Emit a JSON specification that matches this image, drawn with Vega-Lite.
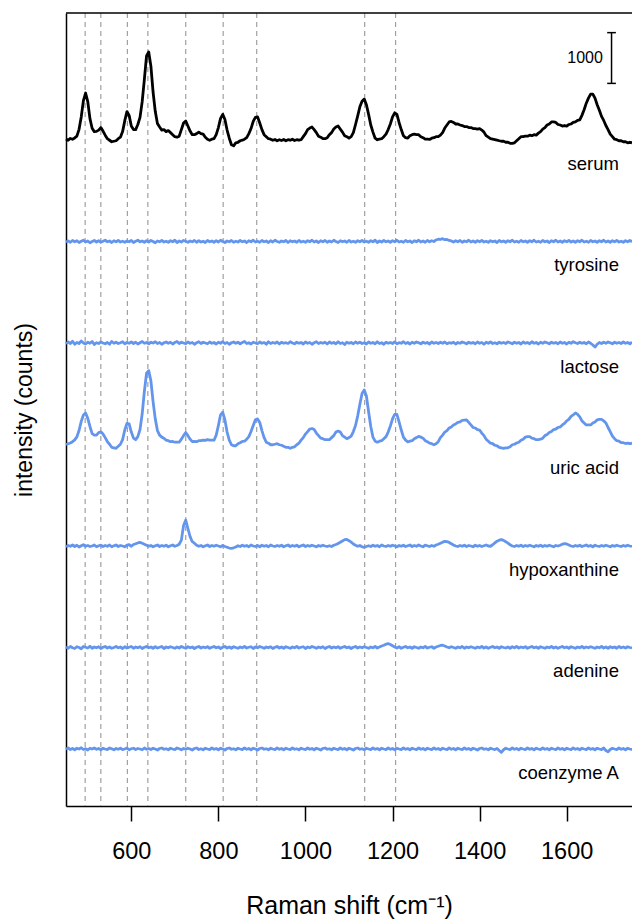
{
"$schema": "https://vega.github.io/schema/vega-lite/v6.json",
"width": 566,
"height": 793,
"autosize": {"type": "none"},
"padding": {"left": 66, "top": 13, "right": 0, "bottom": 113},
"background": "white",
"config": {"font": "Liberation Sans", "view": {"stroke": null}},
"datasets": {
"peaks": [{"p":494},{"p":530},{"p":591},{"p":638},{"p":725},{"p":811},{"p":888},{"p":1136},{"p":1207}],
"labels": [{"n":"serum","y":12530},{"n":"tyrosine","y":10530},{"n":"lactose","y":8530},{"n":"uric acid","y":6530},{"n":"hypoxanthine","y":4530},{"n":"adenine","y":2530},{"n":"coenzyme A","y":530}],
"scalebar": [{"x":1703,"lo":14115,"hi":15115,"c1":1693,"c2":1713,"tx":1683,"ty":14615,"lab":"1000"}],
"frame": [{"top":15502}],
"spectra": [
{"x":450,"s":13020,"t":10990,"l":8985,"u":7000,"h":4985,"a":3010,"c":995},
{"x":455,"s":12995,"t":11010,"l":9020,"u":7015,"h":5010,"a":2985,"c":1020},
{"x":460,"s":13030,"t":10985,"l":8990,"u":7030,"h":4995,"a":3020,"c":990},
{"x":465,"s":13015,"t":11020,"l":9035,"u":7055,"h":5020,"a":2995,"c":1010},
{"x":470,"s":13040,"t":10995,"l":8975,"u":7090,"h":4990,"a":2980,"c":985},
{"x":475,"s":13075,"t":11015,"l":9010,"u":7150,"h":5015,"a":3015,"c":1015},
{"x":480,"s":13210,"t":10980,"l":8990,"u":7275,"h":4980,"a":3000,"c":1000},
{"x":485,"s":13455,"t":11005,"l":9040,"u":7455,"h":5005,"a":2975,"c":1025},
{"x":490,"s":13775,"t":11025,"l":9000,"u":7580,"h":5025,"a":3020,"c":990},
{"x":495,"s":13925,"t":10990,"l":8980,"u":7620,"h":4995,"a":3005,"c":1005},
{"x":500,"s":13755,"t":11010,"l":9015,"u":7515,"h":5010,"a":2990,"c":980},
{"x":505,"s":13420,"t":10975,"l":8995,"u":7355,"h":4990,"a":3025,"c":1015},
{"x":510,"s":13230,"t":11000,"l":9030,"u":7215,"h":5000,"a":2985,"c":1000},
{"x":515,"s":13165,"t":11020,"l":8970,"u":7185,"h":5020,"a":3010,"c":1020},
{"x":520,"s":13170,"t":10990,"l":9005,"u":7185,"h":4985,"a":2995,"c":995},
{"x":525,"s":13195,"t":11015,"l":8990,"u":7235,"h":5005,"a":3015,"c":1010},
{"x":530,"s":13245,"t":10985,"l":9020,"u":7250,"h":5015,"a":2980,"c":985},
{"x":535,"s":13175,"t":11005,"l":9000,"u":7205,"h":4990,"a":3005,"c":1015},
{"x":540,"s":13095,"t":11025,"l":8985,"u":7135,"h":5010,"a":3020,"c":1000},
{"x":545,"s":13025,"t":10995,"l":9010,"u":7055,"h":4995,"a":2990,"c":990},
{"x":550,"s":12995,"t":11010,"l":8975,"u":7005,"h":5020,"a":3010,"c":1020},
{"x":555,"s":12965,"t":10980,"l":9030,"u":6945,"h":4985,"a":2985,"c":1005},
{"x":560,"s":12975,"t":11015,"l":8995,"u":6935,"h":5005,"a":3000,"c":985},
{"x":565,"s":12985,"t":10995,"l":9015,"u":6925,"h":5020,"a":3020,"c":1010},
{"x":570,"s":13025,"t":11020,"l":8990,"u":6965,"h":4990,"a":2995,"c":995},
{"x":575,"s":13055,"t":10990,"l":9005,"u":7005,"h":5010,"a":3010,"c":1015},
{"x":580,"s":13165,"t":11005,"l":9025,"u":7095,"h":5000,"a":2980,"c":990},
{"x":585,"s":13380,"t":10985,"l":8985,"u":7285,"h":4985,"a":3015,"c":1000},
{"x":590,"s":13560,"t":11010,"l":9010,"u":7415,"h":5015,"a":2990,"c":1020},
{"x":595,"s":13485,"t":10995,"l":8995,"u":7405,"h":5025,"a":3005,"c":985},
{"x":600,"s":13275,"t":11020,"l":9020,"u":7245,"h":4995,"a":3020,"c":1005},
{"x":605,"s":13205,"t":10980,"l":8990,"u":7125,"h":5030,"a":2985,"c":1015},
{"x":610,"s":13205,"t":11005,"l":9015,"u":7095,"h":5045,"a":3010,"c":990},
{"x":615,"s":13305,"t":11025,"l":8980,"u":7155,"h":5060,"a":2995,"c":1010},
{"x":620,"s":13445,"t":10995,"l":9005,"u":7295,"h":5070,"a":3015,"c":1000},
{"x":625,"s":13755,"t":11010,"l":9030,"u":7605,"h":5055,"a":2980,"c":985},
{"x":630,"s":14195,"t":10985,"l":8995,"u":8045,"h":5035,"a":3005,"c":1020},
{"x":635,"s":14655,"t":11015,"l":9010,"u":8405,"h":5015,"a":3020,"c":995},
{"x":640,"s":14735,"t":10990,"l":8985,"u":8455,"h":4995,"a":2995,"c":1010},
{"x":645,"s":14455,"t":11020,"l":9015,"u":8255,"h":5010,"a":3010,"c":990},
{"x":650,"s":13945,"t":11000,"l":9000,"u":7845,"h":4985,"a":2985,"c":1015},
{"x":655,"s":13565,"t":10975,"l":9025,"u":7505,"h":5005,"a":3015,"c":1000},
{"x":660,"s":13325,"t":11010,"l":8990,"u":7275,"h":5020,"a":2990,"c":980},
{"x":665,"s":13255,"t":10995,"l":9010,"u":7185,"h":4990,"a":3005,"c":1010},
{"x":670,"s":13195,"t":11020,"l":8975,"u":7145,"h":5010,"a":3020,"c":1020},
{"x":675,"s":13205,"t":10990,"l":9005,"u":7125,"h":4995,"a":2980,"c":995},
{"x":680,"s":13165,"t":11005,"l":9020,"u":7085,"h":5015,"a":3010,"c":1005},
{"x":685,"s":13185,"t":10985,"l":8995,"u":7075,"h":4985,"a":2995,"c":985},
{"x":690,"s":13145,"t":11015,"l":9015,"u":7055,"h":5005,"a":3015,"c":1015},
{"x":695,"s":13105,"t":10995,"l":8980,"u":7060,"h":5020,"a":3000,"c":1000},
{"x":700,"s":13065,"t":11025,"l":9010,"u":7045,"h":4995,"a":2985,"c":990},
{"x":705,"s":13055,"t":10980,"l":9030,"u":7045,"h":5010,"a":3010,"c":1020},
{"x":710,"s":13075,"t":11010,"l":8990,"u":7045,"h":5035,"a":2990,"c":1005},
{"x":715,"s":13205,"t":10990,"l":9015,"u":7105,"h":5115,"a":3020,"c":985},
{"x":720,"s":13335,"t":11020,"l":9000,"u":7175,"h":5405,"a":3000,"c":1010},
{"x":725,"s":13375,"t":11005,"l":8985,"u":7235,"h":5510,"a":2985,"c":995},
{"x":730,"s":13275,"t":10985,"l":9020,"u":7175,"h":5345,"a":3015,"c":1015},
{"x":735,"s":13175,"t":11010,"l":8995,"u":7105,"h":5185,"a":2995,"c":1000},
{"x":740,"s":13105,"t":10995,"l":9010,"u":7055,"h":5085,"a":3010,"c":980},
{"x":745,"s":13105,"t":11020,"l":8975,"u":7060,"h":5055,"a":2980,"c":1010},
{"x":750,"s":13125,"t":10985,"l":9005,"u":7055,"h":5015,"a":3005,"c":1020},
{"x":755,"s":13155,"t":11015,"l":9025,"u":7075,"h":4995,"a":3020,"c":990},
{"x":760,"s":13125,"t":10990,"l":8990,"u":7075,"h":5010,"a":2990,"c":1005},
{"x":765,"s":13115,"t":11005,"l":9015,"u":7085,"h":4985,"a":3010,"c":985},
{"x":770,"s":13055,"t":10980,"l":9000,"u":7080,"h":5005,"a":2995,"c":1015},
{"x":775,"s":13015,"t":11020,"l":8985,"u":7095,"h":5020,"a":3015,"c":1000},
{"x":780,"s":12995,"t":10995,"l":9020,"u":7085,"h":4990,"a":2985,"c":990},
{"x":785,"s":13015,"t":11010,"l":8995,"u":7085,"h":5010,"a":3005,"c":1020},
{"x":790,"s":13025,"t":10985,"l":9010,"u":7085,"h":4995,"a":3020,"c":995},
{"x":795,"s":13105,"t":11015,"l":8980,"u":7185,"h":5015,"a":2995,"c":1010},
{"x":800,"s":13245,"t":10990,"l":9015,"u":7375,"h":5000,"a":3010,"c":985},
{"x":805,"s":13425,"t":11025,"l":8995,"u":7585,"h":4985,"a":2980,"c":1015},
{"x":810,"s":13505,"t":11000,"l":9025,"u":7635,"h":5010,"a":3005,"c":1000},
{"x":815,"s":13405,"t":10980,"l":8990,"u":7485,"h":4990,"a":3020,"c":980},
{"x":820,"s":13195,"t":11010,"l":9010,"u":7245,"h":4975,"a":2990,"c":1010},
{"x":825,"s":13035,"t":10995,"l":8975,"u":7085,"h":4960,"a":3010,"c":1020},
{"x":830,"s":12905,"t":11020,"l":9005,"u":6995,"h":4955,"a":2985,"c":995},
{"x":835,"s":12885,"t":10985,"l":9020,"u":6975,"h":4965,"a":3015,"c":1005},
{"x":840,"s":12945,"t":11005,"l":8995,"u":6975,"h":4980,"a":3000,"c":985},
{"x":845,"s":12955,"t":10990,"l":9015,"u":7015,"h":5005,"a":2985,"c":1015},
{"x":850,"s":12985,"t":11020,"l":8985,"u":7035,"h":4990,"a":3010,"c":1000},
{"x":855,"s":12995,"t":10995,"l":9010,"u":7060,"h":5015,"a":2995,"c":990},
{"x":860,"s":13015,"t":11010,"l":9030,"u":7065,"h":4995,"a":3020,"c":1020},
{"x":865,"s":13045,"t":10980,"l":8990,"u":7105,"h":5010,"a":2990,"c":995},
{"x":870,"s":13125,"t":11015,"l":9005,"u":7155,"h":4985,"a":3005,"c":1010},
{"x":875,"s":13225,"t":10995,"l":8980,"u":7255,"h":5020,"a":3015,"c":985},
{"x":880,"s":13365,"t":11025,"l":9015,"u":7375,"h":5000,"a":2980,"c":1015},
{"x":885,"s":13445,"t":10990,"l":9000,"u":7485,"h":4990,"a":3010,"c":1000},
{"x":890,"s":13455,"t":11005,"l":8985,"u":7505,"h":5010,"a":2995,"c":980},
{"x":895,"s":13335,"t":10985,"l":9020,"u":7435,"h":4985,"a":3020,"c":1010},
{"x":900,"s":13205,"t":11020,"l":8995,"u":7275,"h":5015,"a":3005,"c":1020},
{"x":905,"s":13105,"t":10995,"l":9010,"u":7135,"h":4995,"a":2985,"c":995},
{"x":910,"s":13065,"t":11010,"l":8975,"u":7045,"h":5010,"a":3010,"c":1005},
{"x":915,"s":13025,"t":10980,"l":9025,"u":7025,"h":4985,"a":2995,"c":985},
{"x":920,"s":13015,"t":11015,"l":8990,"u":6995,"h":5020,"a":3015,"c":1015},
{"x":925,"s":12995,"t":10990,"l":9010,"u":6995,"h":5000,"a":2980,"c":1000},
{"x":930,"s":13010,"t":11025,"l":8995,"u":7005,"h":4990,"a":3005,"c":990},
{"x":935,"s":12985,"t":11000,"l":9020,"u":7015,"h":5010,"a":3020,"c":1020},
{"x":940,"s":13005,"t":10985,"l":8980,"u":6995,"h":4995,"a":2990,"c":995},
{"x":945,"s":12990,"t":11010,"l":9015,"u":6985,"h":5015,"a":3010,"c":1010},
{"x":950,"s":13010,"t":10995,"l":8995,"u":6965,"h":4985,"a":2985,"c":985},
{"x":955,"s":12985,"t":11020,"l":9005,"u":6945,"h":5005,"a":3015,"c":1015},
{"x":960,"s":13005,"t":10980,"l":8990,"u":6945,"h":5020,"a":3000,"c":1000},
{"x":965,"s":12995,"t":11015,"l":9025,"u":6925,"h":4990,"a":2985,"c":990},
{"x":970,"s":13015,"t":10995,"l":9000,"u":6945,"h":5010,"a":3010,"c":1020},
{"x":975,"s":12990,"t":11010,"l":8985,"u":6955,"h":4995,"a":2995,"c":995},
{"x":980,"s":13005,"t":10985,"l":9015,"u":6995,"h":5015,"a":3020,"c":1005},
{"x":985,"s":12995,"t":11020,"l":8995,"u":7025,"h":4985,"a":2990,"c":985},
{"x":990,"s":13005,"t":10990,"l":9010,"u":7085,"h":5005,"a":3005,"c":1015},
{"x":995,"s":13065,"t":11005,"l":8980,"u":7135,"h":5020,"a":3015,"c":1000},
{"x":1000,"s":13125,"t":10985,"l":9020,"u":7205,"h":4990,"a":2980,"c":990},
{"x":1005,"s":13205,"t":11015,"l":8995,"u":7255,"h":5010,"a":3010,"c":1020},
{"x":1010,"s":13235,"t":10995,"l":9010,"u":7305,"h":4995,"a":2995,"c":995},
{"x":1015,"s":13255,"t":11025,"l":8975,"u":7315,"h":5015,"a":3020,"c":1010},
{"x":1020,"s":13205,"t":10990,"l":9005,"u":7295,"h":5000,"a":3005,"c":985},
{"x":1025,"s":13145,"t":11010,"l":9025,"u":7225,"h":4985,"a":2985,"c":1015},
{"x":1030,"s":13075,"t":10980,"l":8990,"u":7175,"h":5010,"a":3010,"c":1000},
{"x":1035,"s":13055,"t":11015,"l":9010,"u":7125,"h":4995,"a":2995,"c":980},
{"x":1040,"s":13025,"t":10995,"l":8995,"u":7115,"h":5015,"a":3015,"c":1010},
{"x":1045,"s":13025,"t":11020,"l":9015,"u":7095,"h":5000,"a":2980,"c":1020},
{"x":1050,"s":13045,"t":10985,"l":8980,"u":7095,"h":4990,"a":3005,"c":995},
{"x":1055,"s":13105,"t":11010,"l":9020,"u":7095,"h":5005,"a":3020,"c":1005},
{"x":1060,"s":13145,"t":10990,"l":8995,"u":7135,"h":4990,"a":2990,"c":985},
{"x":1065,"s":13215,"t":11025,"l":9010,"u":7175,"h":5015,"a":3010,"c":1015},
{"x":1070,"s":13255,"t":11000,"l":8985,"u":7245,"h":5030,"a":2995,"c":1000},
{"x":1075,"s":13275,"t":10980,"l":9025,"u":7265,"h":5050,"a":3015,"c":990},
{"x":1080,"s":13215,"t":11015,"l":8990,"u":7245,"h":5075,"a":2985,"c":1020},
{"x":1085,"s":13155,"t":10995,"l":9005,"u":7175,"h":5100,"a":3005,"c":995},
{"x":1090,"s":13085,"t":11010,"l":8970,"u":7145,"h":5125,"a":3020,"c":1010},
{"x":1095,"s":13065,"t":10985,"l":9015,"u":7115,"h":5130,"a":2995,"c":985},
{"x":1100,"s":13035,"t":11020,"l":8995,"u":7135,"h":5105,"a":3010,"c":1015},
{"x":1105,"s":13065,"t":10990,"l":9010,"u":7165,"h":5075,"a":2980,"c":1000},
{"x":1110,"s":13145,"t":11005,"l":8985,"u":7255,"h":5040,"a":3005,"c":980},
{"x":1115,"s":13305,"t":10985,"l":9020,"u":7375,"h":5015,"a":3020,"c":1010},
{"x":1120,"s":13475,"t":11015,"l":8995,"u":7565,"h":4995,"a":2990,"c":1020},
{"x":1125,"s":13655,"t":10995,"l":9015,"u":7795,"h":5010,"a":3010,"c":995},
{"x":1130,"s":13765,"t":11020,"l":8990,"u":8005,"h":4985,"a":2995,"c":1005},
{"x":1135,"s":13805,"t":10990,"l":9005,"u":8075,"h":4975,"a":3015,"c":985},
{"x":1140,"s":13695,"t":11005,"l":8980,"u":7955,"h":4990,"a":3000,"c":1015},
{"x":1145,"s":13505,"t":10985,"l":9020,"u":7645,"h":5005,"a":2985,"c":1000},
{"x":1150,"s":13295,"t":11015,"l":8995,"u":7355,"h":4990,"a":3010,"c":990},
{"x":1155,"s":13155,"t":10995,"l":9010,"u":7145,"h":5015,"a":2995,"c":1020},
{"x":1160,"s":13035,"t":11025,"l":8985,"u":7065,"h":4995,"a":3020,"c":995},
{"x":1165,"s":13005,"t":10980,"l":9025,"u":7045,"h":5010,"a":2990,"c":1010},
{"x":1170,"s":13015,"t":11010,"l":8990,"u":7065,"h":4985,"a":3010,"c":985},
{"x":1175,"s":13025,"t":10990,"l":9005,"u":7075,"h":5020,"a":3030,"c":1015},
{"x":1180,"s":13065,"t":11020,"l":8975,"u":7115,"h":5000,"a":3045,"c":1000},
{"x":1185,"s":13115,"t":10995,"l":9015,"u":7155,"h":4990,"a":3065,"c":990},
{"x":1190,"s":13205,"t":11010,"l":8995,"u":7245,"h":5010,"a":3075,"c":1020},
{"x":1195,"s":13315,"t":10985,"l":9010,"u":7365,"h":4995,"a":3060,"c":995},
{"x":1200,"s":13455,"t":11015,"l":8990,"u":7505,"h":5015,"a":3035,"c":1010},
{"x":1205,"s":13535,"t":10995,"l":9020,"u":7595,"h":5000,"a":3010,"c":985},
{"x":1210,"s":13505,"t":11025,"l":8985,"u":7595,"h":4985,"a":2990,"c":1015},
{"x":1215,"s":13345,"t":10990,"l":9005,"u":7445,"h":5010,"a":3015,"c":1000},
{"x":1220,"s":13205,"t":11005,"l":8995,"u":7285,"h":4995,"a":2985,"c":990},
{"x":1225,"s":13085,"t":10985,"l":9025,"u":7145,"h":5015,"a":3005,"c":1020},
{"x":1230,"s":13045,"t":11020,"l":8990,"u":7085,"h":4990,"a":3020,"c":995},
{"x":1235,"s":13035,"t":10995,"l":9010,"u":7050,"h":5005,"a":2995,"c":1010},
{"x":1240,"s":13085,"t":11010,"l":8980,"u":7065,"h":5020,"a":3010,"c":985},
{"x":1245,"s":13105,"t":10980,"l":9015,"u":7075,"h":4990,"a":2985,"c":1015},
{"x":1250,"s":13115,"t":11015,"l":8995,"u":7115,"h":5010,"a":3015,"c":1000},
{"x":1255,"s":13105,"t":10995,"l":9020,"u":7135,"h":4995,"a":3000,"c":990},
{"x":1260,"s":13105,"t":11025,"l":9005,"u":7160,"h":5020,"a":2985,"c":1020},
{"x":1265,"s":13065,"t":10990,"l":8985,"u":7145,"h":5000,"a":3010,"c":995},
{"x":1270,"s":13045,"t":11010,"l":9015,"u":7125,"h":4985,"a":2995,"c":1010},
{"x":1275,"s":13015,"t":10985,"l":8995,"u":7075,"h":5015,"a":3020,"c":985},
{"x":1280,"s":13015,"t":11020,"l":9010,"u":7055,"h":5005,"a":2990,"c":1015},
{"x":1285,"s":13010,"t":10995,"l":8980,"u":7025,"h":4990,"a":3005,"c":1000},
{"x":1290,"s":13035,"t":11015,"l":9020,"u":7015,"h":5010,"a":3015,"c":990},
{"x":1295,"s":13045,"t":11000,"l":8995,"u":6995,"h":4995,"a":2985,"c":1020},
{"x":1300,"s":13065,"t":11030,"l":9010,"u":7015,"h":5020,"a":3010,"c":995},
{"x":1305,"s":13065,"t":11045,"l":8990,"u":7055,"h":5035,"a":3025,"c":1010},
{"x":1310,"s":13095,"t":11040,"l":9015,"u":7135,"h":5055,"a":3040,"c":985},
{"x":1315,"s":13145,"t":11055,"l":8995,"u":7185,"h":5075,"a":3045,"c":1015},
{"x":1320,"s":13235,"t":11035,"l":9020,"u":7245,"h":5090,"a":3030,"c":1000},
{"x":1325,"s":13295,"t":11040,"l":8985,"u":7275,"h":5085,"a":3010,"c":990},
{"x":1330,"s":13355,"t":11020,"l":9005,"u":7325,"h":5070,"a":2995,"c":1020},
{"x":1335,"s":13365,"t":11010,"l":8995,"u":7345,"h":5045,"a":3015,"c":995},
{"x":1340,"s":13345,"t":10990,"l":9015,"u":7385,"h":5020,"a":3000,"c":1010},
{"x":1345,"s":13315,"t":11015,"l":8980,"u":7405,"h":5000,"a":2985,"c":985},
{"x":1350,"s":13315,"t":10995,"l":9010,"u":7435,"h":4990,"a":3010,"c":1015},
{"x":1355,"s":13295,"t":11020,"l":8995,"u":7445,"h":5010,"a":2995,"c":1000},
{"x":1360,"s":13285,"t":10985,"l":9020,"u":7475,"h":4995,"a":3020,"c":990},
{"x":1365,"s":13265,"t":11010,"l":9005,"u":7480,"h":5015,"a":2985,"c":1020},
{"x":1370,"s":13265,"t":10995,"l":8985,"u":7485,"h":4990,"a":3010,"c":995},
{"x":1375,"s":13245,"t":11025,"l":9015,"u":7435,"h":5010,"a":2995,"c":1010},
{"x":1380,"s":13245,"t":10990,"l":8995,"u":7385,"h":5000,"a":3015,"c":985},
{"x":1385,"s":13225,"t":11010,"l":9010,"u":7335,"h":4985,"a":3000,"c":1015},
{"x":1390,"s":13225,"t":10985,"l":8985,"u":7325,"h":5015,"a":2985,"c":1000},
{"x":1395,"s":13215,"t":11015,"l":9020,"u":7295,"h":4995,"a":3010,"c":980},
{"x":1400,"s":13225,"t":10995,"l":8995,"u":7285,"h":5010,"a":2995,"c":1010},
{"x":1405,"s":13195,"t":11020,"l":9010,"u":7225,"h":4990,"a":3020,"c":1020},
{"x":1410,"s":13155,"t":10990,"l":8975,"u":7175,"h":5005,"a":2990,"c":995},
{"x":1415,"s":13085,"t":11005,"l":9015,"u":7105,"h":5020,"a":3010,"c":1005},
{"x":1420,"s":13055,"t":10985,"l":8995,"u":7065,"h":5000,"a":2985,"c":985},
{"x":1425,"s":13025,"t":11015,"l":9020,"u":7025,"h":4995,"a":3005,"c":1015},
{"x":1430,"s":13015,"t":10995,"l":8990,"u":7015,"h":5025,"a":3020,"c":1000},
{"x":1435,"s":13005,"t":11010,"l":9005,"u":6985,"h":5060,"a":2995,"c":990},
{"x":1440,"s":12995,"t":10980,"l":8985,"u":6975,"h":5095,"a":3010,"c":1010},
{"x":1445,"s":12985,"t":11020,"l":9015,"u":6945,"h":5115,"a":2985,"c":970},
{"x":1450,"s":12975,"t":10995,"l":8995,"u":6935,"h":5125,"a":3015,"c":935},
{"x":1455,"s":12975,"t":11010,"l":9010,"u":6925,"h":5110,"a":3000,"c":985},
{"x":1460,"s":12955,"t":10985,"l":8990,"u":6935,"h":5085,"a":2990,"c":1015},
{"x":1465,"s":12955,"t":11015,"l":9020,"u":6935,"h":5055,"a":3010,"c":1000},
{"x":1470,"s":12935,"t":10995,"l":9005,"u":6955,"h":5025,"a":2985,"c":990},
{"x":1475,"s":12935,"t":11025,"l":8985,"u":6995,"h":5000,"a":3015,"c":1020},
{"x":1480,"s":12945,"t":10990,"l":9015,"u":7005,"h":4990,"a":2995,"c":995},
{"x":1485,"s":12985,"t":11005,"l":8995,"u":7030,"h":5010,"a":3020,"c":1010},
{"x":1490,"s":13025,"t":10985,"l":9010,"u":7045,"h":4995,"a":2990,"c":985},
{"x":1495,"s":13065,"t":11020,"l":8980,"u":7085,"h":5015,"a":3010,"c":1015},
{"x":1500,"s":13065,"t":10995,"l":9020,"u":7105,"h":4990,"a":2995,"c":1000},
{"x":1505,"s":13075,"t":11010,"l":8995,"u":7145,"h":5010,"a":3015,"c":990},
{"x":1510,"s":13075,"t":10985,"l":9010,"u":7155,"h":4995,"a":2985,"c":1020},
{"x":1515,"s":13095,"t":11015,"l":8985,"u":7155,"h":5015,"a":3005,"c":995},
{"x":1520,"s":13085,"t":10995,"l":9025,"u":7125,"h":5000,"a":3020,"c":1010},
{"x":1525,"s":13105,"t":11025,"l":8995,"u":7115,"h":4985,"a":2995,"c":985},
{"x":1530,"s":13095,"t":10990,"l":9010,"u":7095,"h":5010,"a":3010,"c":1015},
{"x":1535,"s":13135,"t":11005,"l":8980,"u":7095,"h":4995,"a":2985,"c":1000},
{"x":1540,"s":13165,"t":10985,"l":9015,"u":7105,"h":5015,"a":3015,"c":990},
{"x":1545,"s":13215,"t":11020,"l":8995,"u":7125,"h":4990,"a":3000,"c":1020},
{"x":1550,"s":13245,"t":10995,"l":9020,"u":7175,"h":5010,"a":2985,"c":995},
{"x":1555,"s":13295,"t":11010,"l":9005,"u":7195,"h":4995,"a":3010,"c":1010},
{"x":1560,"s":13315,"t":10980,"l":8985,"u":7235,"h":5015,"a":2995,"c":985},
{"x":1565,"s":13355,"t":11015,"l":9015,"u":7255,"h":5000,"a":3020,"c":1015},
{"x":1570,"s":13355,"t":10995,"l":8995,"u":7295,"h":4985,"a":2990,"c":1000},
{"x":1575,"s":13345,"t":11025,"l":9010,"u":7305,"h":5010,"a":3010,"c":990},
{"x":1580,"s":13305,"t":10990,"l":8985,"u":7335,"h":5000,"a":2985,"c":1020},
{"x":1585,"s":13295,"t":11010,"l":9020,"u":7345,"h":5015,"a":3005,"c":995},
{"x":1590,"s":13275,"t":10985,"l":8995,"u":7385,"h":5035,"a":3020,"c":1010},
{"x":1595,"s":13285,"t":11015,"l":9010,"u":7415,"h":5045,"a":2995,"c":985},
{"x":1600,"s":13275,"t":10995,"l":8980,"u":7465,"h":5040,"a":3010,"c":1015},
{"x":1605,"s":13305,"t":11020,"l":9015,"u":7495,"h":5020,"a":2985,"c":1000},
{"x":1610,"s":13315,"t":10990,"l":8995,"u":7555,"h":5000,"a":3015,"c":990},
{"x":1615,"s":13345,"t":11010,"l":9025,"u":7585,"h":4990,"a":3000,"c":1020},
{"x":1620,"s":13355,"t":10985,"l":9005,"u":7620,"h":5010,"a":2985,"c":995},
{"x":1625,"s":13385,"t":11015,"l":8990,"u":7595,"h":4995,"a":3010,"c":1010},
{"x":1630,"s":13395,"t":10995,"l":9015,"u":7545,"h":5015,"a":2995,"c":985},
{"x":1635,"s":13485,"t":11025,"l":8995,"u":7465,"h":4990,"a":3020,"c":1015},
{"x":1640,"s":13595,"t":10990,"l":9010,"u":7425,"h":5005,"a":2990,"c":1000},
{"x":1645,"s":13725,"t":11005,"l":8985,"u":7385,"h":5020,"a":3010,"c":990},
{"x":1650,"s":13825,"t":10985,"l":9020,"u":7385,"h":4995,"a":2995,"c":1020},
{"x":1655,"s":13905,"t":11020,"l":8995,"u":7385,"h":5010,"a":3015,"c":995},
{"x":1660,"s":13905,"t":10995,"l":8960,"u":7425,"h":4985,"a":3000,"c":1010},
{"x":1665,"s":13825,"t":11010,"l":8920,"u":7445,"h":5015,"a":2985,"c":985},
{"x":1670,"s":13695,"t":10985,"l":8975,"u":7485,"h":5000,"a":3010,"c":1015},
{"x":1675,"s":13585,"t":11015,"l":9010,"u":7495,"h":4990,"a":2995,"c":1000},
{"x":1680,"s":13465,"t":10995,"l":8990,"u":7495,"h":5010,"a":3020,"c":990},
{"x":1685,"s":13385,"t":11025,"l":9015,"u":7465,"h":4995,"a":2990,"c":1020},
{"x":1690,"s":13285,"t":10990,"l":8995,"u":7425,"h":5015,"a":3010,"c":970},
{"x":1695,"s":13205,"t":11010,"l":9020,"u":7335,"h":5000,"a":2985,"c":945},
{"x":1700,"s":13115,"t":10985,"l":9005,"u":7255,"h":4985,"a":3015,"c":990},
{"x":1705,"s":13065,"t":11015,"l":8985,"u":7165,"h":5010,"a":2995,"c":1015},
{"x":1710,"s":13015,"t":10995,"l":9015,"u":7115,"h":4995,"a":3010,"c":1000},
{"x":1715,"s":13005,"t":11020,"l":8995,"u":7075,"h":5015,"a":2985,"c":990},
{"x":1720,"s":12985,"t":10990,"l":9010,"u":7065,"h":5000,"a":3020,"c":1020},
{"x":1725,"s":12985,"t":11005,"l":8990,"u":7035,"h":4990,"a":2995,"c":995},
{"x":1730,"s":12965,"t":10985,"l":9020,"u":7035,"h":5010,"a":3010,"c":1010},
{"x":1735,"s":12965,"t":11015,"l":8995,"u":7020,"h":4995,"a":2990,"c":985},
{"x":1740,"s":12945,"t":10995,"l":9010,"u":7025,"h":5015,"a":3015,"c":1015},
{"x":1745,"s":12955,"t":11020,"l":8985,"u":7015,"h":5000,"a":3000,"c":1000},
{"x":1750,"s":12945,"t":10995,"l":9015,"u":7025,"h":4990,"a":2990,"c":990}
]
},
"layer": [
{
"data": {"name": "peaks"},
"mark": {"type": "rule", "color": "#a0a0a0", "strokeDash": [5, 4], "strokeWidth": 1.2},
"encoding": {
"x": {"field": "p", "type": "quantitative", "scale": {"domain": [450, 1750], "nice": false, "zero": false},
"axis": {"values": [600, 800, 1000, 1200, 1400, 1600], "format": "d", "grid": false, "domainColor": "#000000", "domainWidth": 1.5, "tickColor": "#000000", "tickWidth": 1.5, "tickSize": 15, "labelFontSize": 23.5, "labelColor": "#000000", "labelPadding": 18, "labelFlush": false, "title": "Raman shift (cm⁻¹)", "titleFontSize": 25, "titleFontWeight": "normal", "titleColor": "#000000", "titlePadding": 31}}
}
},
{
"data": {"name": "spectra"},
"transform": [{"fold": ["s", "t", "l", "u", "h", "a", "c"], "as": ["k", "v"]}],
"mark": {"type": "line", "strokeWidth": 2.8, "strokeJoin": "round"},
"encoding": {
"x": {"field": "x", "type": "quantitative"},
"y": {"field": "v", "type": "quantitative", "scale": {"domain": [-123, 15502], "nice": false, "zero": false},
"axis": {"ticks": false, "labels": false, "grid": false, "domainColor": "#000000", "domainWidth": 1.5, "title": "intensity (counts)", "titleFontSize": 23, "titleFontWeight": "normal", "titleColor": "#000000", "titlePadding": 30}},
"color": {"field": "k", "type": "nominal", "scale": {"domain": ["s", "t", "l", "u", "h", "a", "c"], "range": ["#000000", "#6495ED", "#6495ED", "#6495ED", "#6495ED", "#6495ED", "#6495ED"]}, "legend": null}
}
},
{
"data": {"name": "labels"},
"mark": {"type": "text", "align": "right", "baseline": "middle", "fontSize": 18.5, "color": "#000000"},
"encoding": {
"x": {"datum": 1720, "type": "quantitative"},
"y": {"field": "y", "type": "quantitative"},
"text": {"field": "n", "type": "nominal"}
}
},
{
"data": {"name": "scalebar"},
"mark": {"type": "rule", "color": "#000000", "strokeWidth": 1.5},
"encoding": {"x": {"field": "x", "type": "quantitative"}, "y": {"field": "lo", "type": "quantitative"}, "y2": {"field": "hi"}}
},
{
"data": {"name": "scalebar"},
"mark": {"type": "rule", "color": "#000000", "strokeWidth": 1.5},
"encoding": {"x": {"field": "c1", "type": "quantitative"}, "x2": {"field": "c2"}, "y": {"field": "lo", "type": "quantitative"}}
},
{
"data": {"name": "scalebar"},
"mark": {"type": "rule", "color": "#000000", "strokeWidth": 1.5},
"encoding": {"x": {"field": "c1", "type": "quantitative"}, "x2": {"field": "c2"}, "y": {"field": "hi", "type": "quantitative"}}
},
{
"data": {"name": "scalebar"},
"mark": {"type": "text", "align": "right", "baseline": "middle", "fontSize": 16, "color": "#000000"},
"encoding": {"x": {"field": "tx", "type": "quantitative"}, "y": {"field": "ty", "type": "quantitative"}, "text": {"field": "lab", "type": "nominal"}}
},
{
"data": {"name": "frame"},
"mark": {"type": "rule", "color": "#000000", "strokeWidth": 1.5},
"encoding": {"y": {"field": "top", "type": "quantitative"}}
}
]
}
